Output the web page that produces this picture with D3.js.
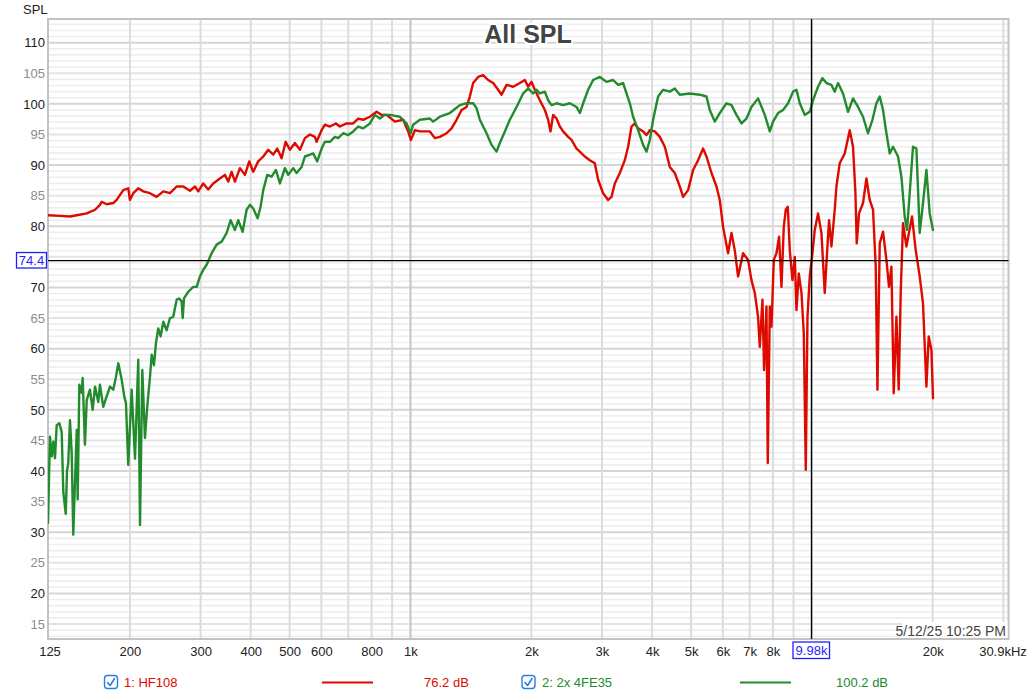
<!DOCTYPE html>
<html><head><meta charset="utf-8">
<script src="https://cdn.jsdelivr.net/npm/d3@7/dist/d3.min.js"></script>
<style>
html,body{margin:0;padding:0;background:#fff;}
svg{display:block;font-family:"Liberation Sans",Arial,Helvetica,sans-serif;}
</style></head><body>
<svg id="chart" width="1033" height="697"></svg>
<script>
// ---- data (frequency Hz, SPL dB) ----
const hf108 = [[125,81.8],[133.9,81.7],[141.8,81.6],[147.4,81.8],[156.1,82.1],[163.7,82.7],[168.4,83.5],[170.1,84],[175,83.6],[181.8,83.8],[185.4,84.3],[192.5,85.9],[198.1,86.2],[200,84.3],[203.9,85.4],[209.8,86.2],[215.9,85.7],[224.4,85.4],[233.1,84.8],[242.2,85.7],[251.7,85.4],[261.5,86.5],[271.6,86.5],[282.2,85.8],[290.4,86.5],[296,85.7],[304.6,87],[313.4,86],[322.5,87],[335.2,87.8],[344.9,88.4],[351.5,87.3],[358.4,88.9],[365.3,87.3],[375.9,89.5],[386.9,88.4],[396.5,90.6],[405.7,88.9],[417.5,90.6],[429.7,91.4],[442.2,92.5],[455,91.7],[465.6,92.7],[477.5,91.1],[488.6,93.8],[500.8,92.5],[515.3,93.6],[530.3,92.5],[545.8,94.4],[561.7,95],[577.9,94.6],[583.6,93.8],[600.6,95.7],[612.1,96.6],[629.9,96.3],[651.9,96.8],[667,96.3],[693.2,96.8],[720,96.8],[740.9,97.6],[762.4,97.4],[792.3,97.9],[823.3,98.7],[847.3,98.2],[871.9,98.2],[914.4,97.1],[959,97.4],[986.9,95.5],[1002.3,94.1],[1025.6,95.7],[1055.4,95.5],[1086.1,95.5],[1117.7,95.5],[1150.2,94.4],[1183.7,94.6],[1230,95.2],[1265.8,96],[1302.6,97.4],[1340.5,99],[1379.5,99.5],[1405.9,101.2],[1432.7,103.4],[1474.4,104.4],[1517.3,104.7],[1561.4,103.9],[1606.9,103.4],[1653.6,102.3],[1686.2,101.5],[1735.3,103.1],[1802,102.8],[1872.8,103.4],[1927.3,103.9],[1964.1,102.8],[2002.8,103.6],[2041,102.3],[2100.5,100.6],[2161.6,99],[2202.9,97.4],[2233.4,95.5],[2267,98.2],[2311.6,97.6],[2355.7,96.3],[2400.8,95.5],[2470.5,94.6],[2519.1,94.1],[2592.5,92.7],[2642.1,92.2],[2718.8,91.4],[2797.8,90.8],[2879.2,90.3],[2934.3,87.6],[3019.6,85.4],[3107.5,84.3],[3168.7,84.8],[3229.2,87],[3323.1,88.7],[3419.9,90.8],[3485.3,93],[3553.9,96.3],[3621.8,96.8],[3691.1,96],[3798.4,95.5],[3873.2,94.9],[3947.3,95.7],[4062,95.5],[4180.2,94.6],[4301.8,93],[4427.1,89.7],[4555.7,88.7],[4688.2,86.5],[4777.8,84.8],[4916.7,85.9],[5059.8,89.2],[5207,90.8],[5358.4,92.7],[5463.8,91.4],[5623,88.7],[5786.6,86.5],[5896.8,84.3],[6009.1,79.9],[6184.5,75.6],[6306.3,78.9],[6426.6,76.1],[6549.5,71.8],[6740,75.6],[6936.1,74.5],[7072.7,71.2],[7207.7,69.1],[7345.5,65.2],[7417.2,60.3],[7532.9,68],[7602.7,56.5],[7708.1,66.9],[7765.9,41.3],[7856.5,66.9],[7933,63.6],[8038.4,74.5],[8163.8,75.6],[8286.4,78.3],[8401.3,70.1],[8512.9,79.9],[8611.1,82.7],[8710.5,83.2],[8811,76.1],[8948.5,71.2],[9067.3,75],[9156,66.3],[9277.9,72.3],[9422.7,69.1],[9547.8,62.5],[9658,40.2],[9752.6,65.2],[9880.8,71.8],[10035,75.6],[10168,79.4],[10362,82.1],[10566,78.9],[10768,69.1],[10911,75.6],[11037,81],[11189,76.7],[11403,82.7],[11515,86.5],[11735,90.3],[12076,91.9],[12428,95.7],[12665,93],[12841,85.4],[12937,77.2],[13108,82.1],[13413,83.8],[13677,87.8],[13938,84.3],[14205,82.7],[14427,73.4],[14568,53.3],[14761,77.2],[15043,79.1],[15339,74.5],[15569,70.1],[15785,73.4],[15995,52.7],[16245,65.2],[16460,53.3],[16650,69.1],[16871,80.5],[17203,76.7],[17765,81.6],[18146,76.1],[18567,71.8],[18922,67.4],[19295,53.8],[19551,62],[19856,59.8],[20039,51.9]];

const fe35 = [[125,31.5],[126.4,45.6],[127.7,42.4],[128.9,44.8],[130.1,42.1],[131.4,47.5],[133.4,47.8],[135.2,46.4],[136.5,36.5],[138.4,33],[139.4,40],[140.4,41.3],[141.8,48.3],[143.2,42.9],[144.5,29.6],[145.9,38.1],[147.4,46.7],[148.2,35.4],[149.6,54.1],[151.6,52.8],[152.5,55.2],[154.5,44.3],[156.1,51.6],[159,53.3],[161.5,50],[163.7,53.8],[166.8,51.3],[168.4,54.1],[171.6,50.5],[175,52.2],[178.4,53.8],[181.8,53.3],[184.6,55.4],[187.1,57.6],[190.8,54.9],[193.6,52.2],[195.5,51.1],[198.1,41],[202,53.3],[205.9,42],[209.8,58.2],[211.9,31.2],[214.7,56.5],[218,45.4],[220.9,50.5],[224.4,55.4],[226.6,59],[229.6,57.3],[232.2,60.9],[235.3,63.3],[238.6,62],[242.2,64.4],[246.9,63],[251.7,65],[256.4,65.2],[261.5,68],[265.4,68.2],[269.1,67.7],[270.7,65],[272.7,68.2],[279.5,69.3],[287.6,70.1],[293.3,70.1],[298.9,71.8],[304.6,72.9],[310.6,73.7],[319.6,75.6],[328.9,77],[338.5,77.5],[348.3,78.9],[356.4,81],[365.3,79.4],[372.3,81],[381.8,79.1],[390.6,82.7],[398.1,83.5],[405.7,82.9],[416.1,81.3],[423.3,83.2],[429.7,85.9],[439.7,88.4],[450.9,88.1],[462.1,89.2],[472.9,87],[486.6,89.5],[495.9,88.4],[510.3,89.5],[520.4,88.7],[535.5,89.7],[545.8,91.4],[561.7,91.7],[572.4,91.9],[585.6,90.6],[600.6,92.7],[612.1,93.8],[629.9,93.8],[648.2,94.6],[660.6,94.4],[679.8,95.2],[699.6,94.9],[720,95.5],[740.9,96.3],[762.4,96],[792.3,96.8],[815.3,98.2],[839,97.6],[863.5,98.2],[888.6,98.2],[941,97.9],[977.9,96.8],[1001,95.2],[1015.6,96.6],[1055.4,97.4],[1117.7,97.6],[1139,97.1],[1183.7,97.9],[1253.5,98.5],[1327.5,99.8],[1379.5,100.1],[1432.7,100.1],[1460.9,99.3],[1488.8,97.4],[1547.2,95.2],[1592.2,93.3],[1638.5,92.2],[1669.8,93.6],[1718.4,95.5],[1768.4,97.4],[1837.7,99.5],[1908.6,101.7],[1964.1,102.5],[2021.3,101.7],[2061.1,102.3],[2100.5,101.7],[2161.6,102],[2202.9,100.6],[2246.3,99.8],[2311.6,100.1],[2400.8,99.8],[2494.8,100.1],[2592.5,99.5],[2642.1,98.5],[2692.5,100.1],[2770.9,102.3],[2851.4,103.9],[2963.2,104.4],[3079.2,103.6],[3198,103.9],[3291.1,103.1],[3386.8,103.4],[3453.5,101.7],[3519.5,100.1],[3586.7,97.9],[3691.1,95.7],[3798.4,93.3],[3873.2,92.2],[3947.3,94.1],[4022.6,97.4],[4139.6,101.2],[4260.2,102.3],[4427.1,102],[4555.7,102.5],[4688.2,101.5],[4964.9,101.7],[5257.9,101.5],[5463.8,101.2],[5568.4,99],[5730,97.1],[5896.8,98.5],[6127.4,100.1],[6306.3,99.8],[6489.7,98.2],[6678.4,96.8],[6872.6,97.6],[7072.7,99.5],[7345.5,100.9],[7633.2,98.2],[7856.5,95.5],[8006.1,97.1],[8239.2,98.5],[8478.8,99],[8725.4,100.1],[8979.3,102],[9156,102.3],[9331.3,100.1],[9601,98.2],[9880.8,98.7],[10069,100.6],[10362,102.8],[10627,104.2],[10873,103.4],[11189,103.1],[11403,102],[11621,103.4],[11959,101.7],[12307,98.7],[12665,100.9],[13033,99.5],[13413,97.9],[13803,95.2],[14156,97.4],[14484,100.1],[14761,101.2],[15043,99],[15339,95.2],[15632,91.9],[15931,93],[16394,91.4],[16717,88.1],[17036,81.6],[17262,79.4],[17532,85.4],[17867,93],[18219,92.7],[18567,78.9],[18922,83.8],[19295,89.2],[19663,82.1],[20039,79.4]];

// 75 is hidden behind the cursor read-out box
const yTickValues = [15,20,25,30,35,40,45,50,55,60,65,70,80,85,90,95,100,105,110];
const xTickValues = [125,200,300,400,500,600,800,1000,2000,3000,4000,5000,6000,7000,8000,20000,30900];
const xTickLabels = ["125","200","300","400","500","600","800","1k","2k","3k","4k","5k","6k","7k","8k","20k","30.9kHz"];
const xGridValues = [200,300,400,500,600,700,800,900,1000,2000,3000,4000,5000,6000,7000,8000,9000,10000,20000,30000];
const xGridDark = [1000,10000];
const seriesNames = ["1: HF108","2: 2x 4FE35"];
const seriesLevels = ["76.2 dB","100.2 dB"];
const seriesColors = ["#dd0a00","#228b2d"];
const cursorFreq = 9980, cursorDb = 74.4;
const cursorFreqLabel = "9.98k", cursorDbLabel = "74.4";
const chartTitle = "All SPL";
const yAxisTitle = "SPL";
const stampText = "5/12/25 10:25 PM";

// ---- layout ----
const L = 48, R = 1008.5, T = 19, B = 639;
const svg = d3.select("#chart");
svg.append("rect").attr("width",1033).attr("height",697).attr("fill","#fff");

const x = d3.scaleLog().domain([125, 30900]).range([L, R]);
const y = d3.scaleLinear().domain([12.55, 113.87]).range([B, T]);

// horizontal grid (1 dB)
const hg = svg.append("g");
d3.range(13, 114).forEach(v => {
  const c = v % 10 === 0 ? "#d5d5d5" : (v % 5 === 0 ? "#e4e4e4" : "#eeeeee");
  hg.append("line").attr("x1", L).attr("x2", R).attr("y1", y(v)).attr("y2", y(v))
    .attr("stroke", c).attr("stroke-width", v % 5 === 0 ? 2 : 1.6);
});
// vertical grid
const vg = svg.append("g");
xGridValues.forEach(f => {
  vg.append("line").attr("x1", x(f)).attr("x2", x(f)).attr("y1", T).attr("y2", B)
    .attr("stroke", xGridDark.includes(f) ? "#c4c4c4" : "#dcdcdc").attr("stroke-width", 2);
});
// frame
svg.append("rect").attr("x", L).attr("y", T).attr("width", R - L).attr("height", B - T)
  .attr("fill", "none").attr("stroke", "#c2c2c2").attr("stroke-width", 2);

// time stamp
svg.append("rect").attr("x", 902).attr("y", 622).attr("width", R - 903).attr("height", B - 623).attr("fill", "#fff");
svg.append("text").attr("x", 1006).attr("y", 635.5).attr("text-anchor", "end")
  .attr("font-size", 14).attr("fill", "#444").text(stampText);

// data lines
svg.append("clipPath").attr("id", "clip").append("rect")
  .attr("x", L).attr("y", T).attr("width", R - L).attr("height", B - T);
const line = d3.line().x(d => x(d[0])).y(d => y(d[1]));
const lines = svg.append("g").attr("clip-path", "url(#clip)");
[hf108, fe35].forEach((s, i) => {
  lines.append("path").datum(s).attr("d", line).attr("fill", "none")
    .attr("stroke", seriesColors[i]).attr("stroke-width", 2.4)
    .attr("stroke-linejoin", "round").attr("stroke-linecap", "round");
});

// cursor
svg.append("line").attr("x1", x(cursorFreq)).attr("x2", x(cursorFreq)).attr("y1", T).attr("y2", B)
  .attr("stroke", "#000").attr("stroke-width", 1.3);
svg.append("line").attr("x1", L).attr("x2", R).attr("y1", y(cursorDb)).attr("y2", y(cursorDb))
  .attr("stroke", "#000").attr("stroke-width", 1.3);

// title
svg.append("text").attr("x", 528).attr("y", 43).attr("text-anchor", "middle")
  .attr("font-size", 25).attr("font-weight", "bold").attr("fill", "#444")
  .attr("stroke", "#fff").attr("stroke-width", 4).attr("paint-order", "stroke")
  .text(chartTitle);

// y axis labels
const yAxis = svg.append("g").attr("transform", `translate(${L},0)`)
  .call(d3.axisLeft(y).tickValues(yTickValues).tickSize(0).tickPadding(3).tickFormat(d3.format("d")));
yAxis.select(".domain").remove();
yAxis.selectAll("text").attr("font-size", 13).attr("font-family", null)
  .attr("fill", d => d % 10 === 0 ? "#222" : "#8c8c8c");
svg.append("text").attr("x", 23).attr("y", 13.5).attr("font-size", 13).attr("fill", "#222").text(yAxisTitle);

// x axis labels
const xAxis = svg.append("g").attr("transform", `translate(0,${B})`)
  .call(d3.axisBottom(x).tickValues(xTickValues).tickSize(0).tickPadding(8)
    .tickFormat((d, i) => xTickLabels[i]));
xAxis.select(".domain").remove();
xAxis.selectAll("text").attr("font-size", 13).attr("font-family", null).attr("fill", "#222")
  .attr("dx", d => d === 30900 ? -6 : (d === 125 ? 1.5 : 0));

// cursor value boxes
const bx = x(cursorFreq);
svg.append("rect").attr("x", bx - 18.5).attr("y", 642).attr("width", 36.5).attr("height", 16.5)
  .attr("fill", "#fff").attr("stroke", "#1f1fff").attr("stroke-width", 1.3);
svg.append("text").attr("x", bx).attr("y", 655).attr("text-anchor", "middle")
  .attr("font-size", 13).attr("fill", "#1f1fff").text(cursorFreqLabel);
const by = y(cursorDb);
svg.append("rect").attr("x", 16.5).attr("y", by - 8).attr("width", 30).attr("height", 15.5)
  .attr("fill", "#fff").attr("stroke", "#1f1fff").attr("stroke-width", 1.3);
svg.append("text").attr("x", 31.5).attr("y", by + 4.6).attr("text-anchor", "middle")
  .attr("font-size", 13).attr("fill", "#1f1fff").text(cursorDbLabel);

// legend
const legendX = [[104.5, 124, 322, 424], [522, 542, 740, 836]];
seriesNames.forEach((n, i) => {
  const [cb, tx, lx, vx] = legendX[i];
  const g = svg.append("g");
  g.append("rect").attr("x", cb).attr("y", 675.5).attr("width", 13).attr("height", 13).attr("rx", 3)
    .attr("fill", "#fff").attr("stroke", "#2a7de1").attr("stroke-width", 1.4);
  g.append("path").attr("d", `M${cb+3},${682.5} L${cb+5.6},${685.5} L${cb+10},${678.5}`)
    .attr("fill", "none").attr("stroke", "#2a7de1").attr("stroke-width", 1.6)
    .attr("stroke-linecap", "round").attr("stroke-linejoin", "round");
  g.append("text").attr("x", tx).attr("y", 687).attr("font-size", 13).attr("fill", seriesColors[i]).text(n);
  g.append("line").attr("x1", lx).attr("x2", lx + 51).attr("y1", 682.5).attr("y2", 682.5)
    .attr("stroke", seriesColors[i]).attr("stroke-width", 2);
  g.append("text").attr("x", vx).attr("y", 687).attr("font-size", 13).attr("fill", seriesColors[i]).text(seriesLevels[i]);
});
</script>
</body></html>
